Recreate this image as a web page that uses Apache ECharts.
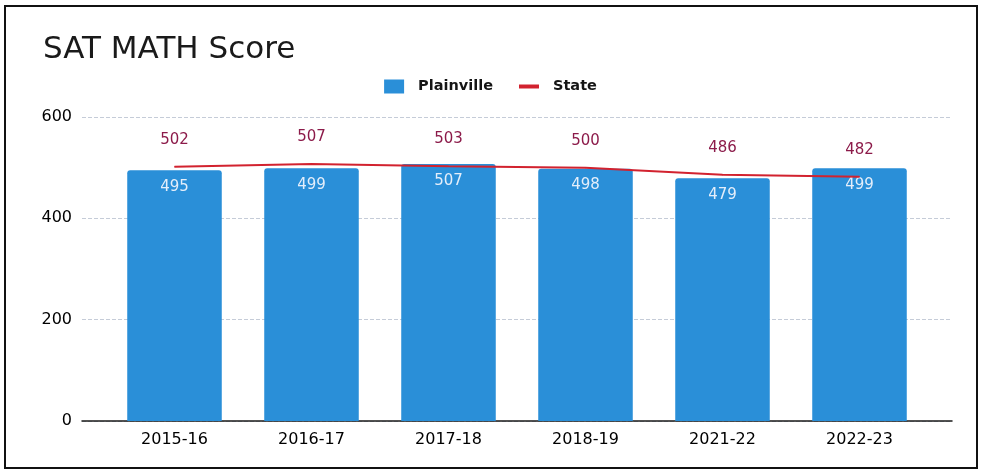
<!DOCTYPE html>
<html>
<head>
<meta charset="utf-8">
<script src="https://cdn.jsdelivr.net/npm/echarts@6/dist/echarts.min.js"></script>
<style>
  html, body { margin: 0; padding: 0; background: #fff; }
  #frame { position: absolute; left: 4px; top: 5px; width: 970px; height: 460px; border: 2px solid #111; }
  #container { position: absolute; left: 0; top: 0; width: 981px; height: 476px; }
</style>
</head>
<body>
<div id="frame"></div>
<div id="container"></div>
<script>
var years = ['2015-16', '2016-17', '2017-18', '2018-19', '2021-22', '2022-23'];
var plainville = [495, 499, 507, 498, 479, 499];
var state = [502, 507, 503, 500, 486, 482];

var dom = document.getElementById('container');
var myChart = echarts.init(dom, null, { renderer: 'canvas' });

var font = 'DejaVu Sans';

var option = {
    animation: false,
    title: {
        text: 'SAT MATH Score',
        left: 38,
        top: 29,
        textStyle: { fontFamily: font, fontSize: 31, fontWeight: 'normal', color: '#1a1a1a' }
    },
    legend: {
        top: 74,
        left: 'center',
        itemGap: 26,
        itemWidth: 20,
        itemHeight: 14,
        textStyle: { fontFamily: font, fontSize: 14.5, fontWeight: 'bold', color: '#151515', padding: [0, 0, 0, 9] },
        data: [
            { name: 'Plainville', icon: 'rect' },
            { name: 'State', icon: 'path://M0,0H20V4H0Z' }
        ]
    },
    // outer grid: gridlines, y labels and the long baseline
    // inner grid: the bars and the state line
    grid: [
        { left: 82, right: 29, top: 117, bottom: 55 },
        { left: 106, right: 53, top: 117, bottom: 55 }
    ],
    xAxis: [
        {
            gridIndex: 0,
            type: 'value',
            min: 0,
            max: 1,
            axisLine: { show: true, onZero: false, lineStyle: { color: '#1a1a1a', width: 1.5 } },
            axisTick: { show: false },
            axisLabel: { show: false },
            splitLine: { show: false }
        },
        {
            gridIndex: 1,
            type: 'category',
            data: years,
            axisLine: { show: false },
            axisTick: { show: false },
            axisLabel: { fontFamily: font, fontSize: 16, color: '#000', margin: 11 }
        }
    ],
    yAxis: [
        {
            gridIndex: 0,
            type: 'value',
            min: 0,
            max: 600,
            interval: 200,
            axisLine: { show: false },
            axisTick: { show: false },
            axisLabel: { fontFamily: font, fontSize: 16, color: '#000', margin: 10 },
            splitLine: { lineStyle: { color: '#c5ccd8', type: 'dashed' } }
        },
        {
            gridIndex: 1,
            type: 'value',
            min: 0,
            max: 600,
            interval: 200,
            axisLine: { show: false },
            axisTick: { show: false },
            axisLabel: { show: false },
            splitLine: { show: false }
        }
    ],
    series: [
        {
            name: 'Plainville',
            type: 'bar',
            xAxisIndex: 1,
            yAxisIndex: 1,
            data: plainville,
            barWidth: '69%',
            itemStyle: { color: '#2a8fd8', borderRadius: [3, 3, 0, 0] },
            label: {
                show: true,
                position: 'insideTop',
                distance: 9,
                color: '#e4eefa',
                fontFamily: font,
                fontSize: 15
            }
        },
        {
            name: 'State',
            type: 'line',
            xAxisIndex: 1,
            yAxisIndex: 1,
            data: state,
            symbol: 'circle',
            symbolSize: 1,
            lineStyle: { color: '#d2222f', width: 2 },
            itemStyle: { color: '#d2222f' },
            label: {
                show: true,
                position: 'top',
                distance: 19,
                color: '#8c1b4a',
                fontFamily: font,
                fontSize: 15
            }
        }
    ]
};

myChart.setOption(option);
window.addEventListener('resize', myChart.resize);
</script>
</body>
</html>
